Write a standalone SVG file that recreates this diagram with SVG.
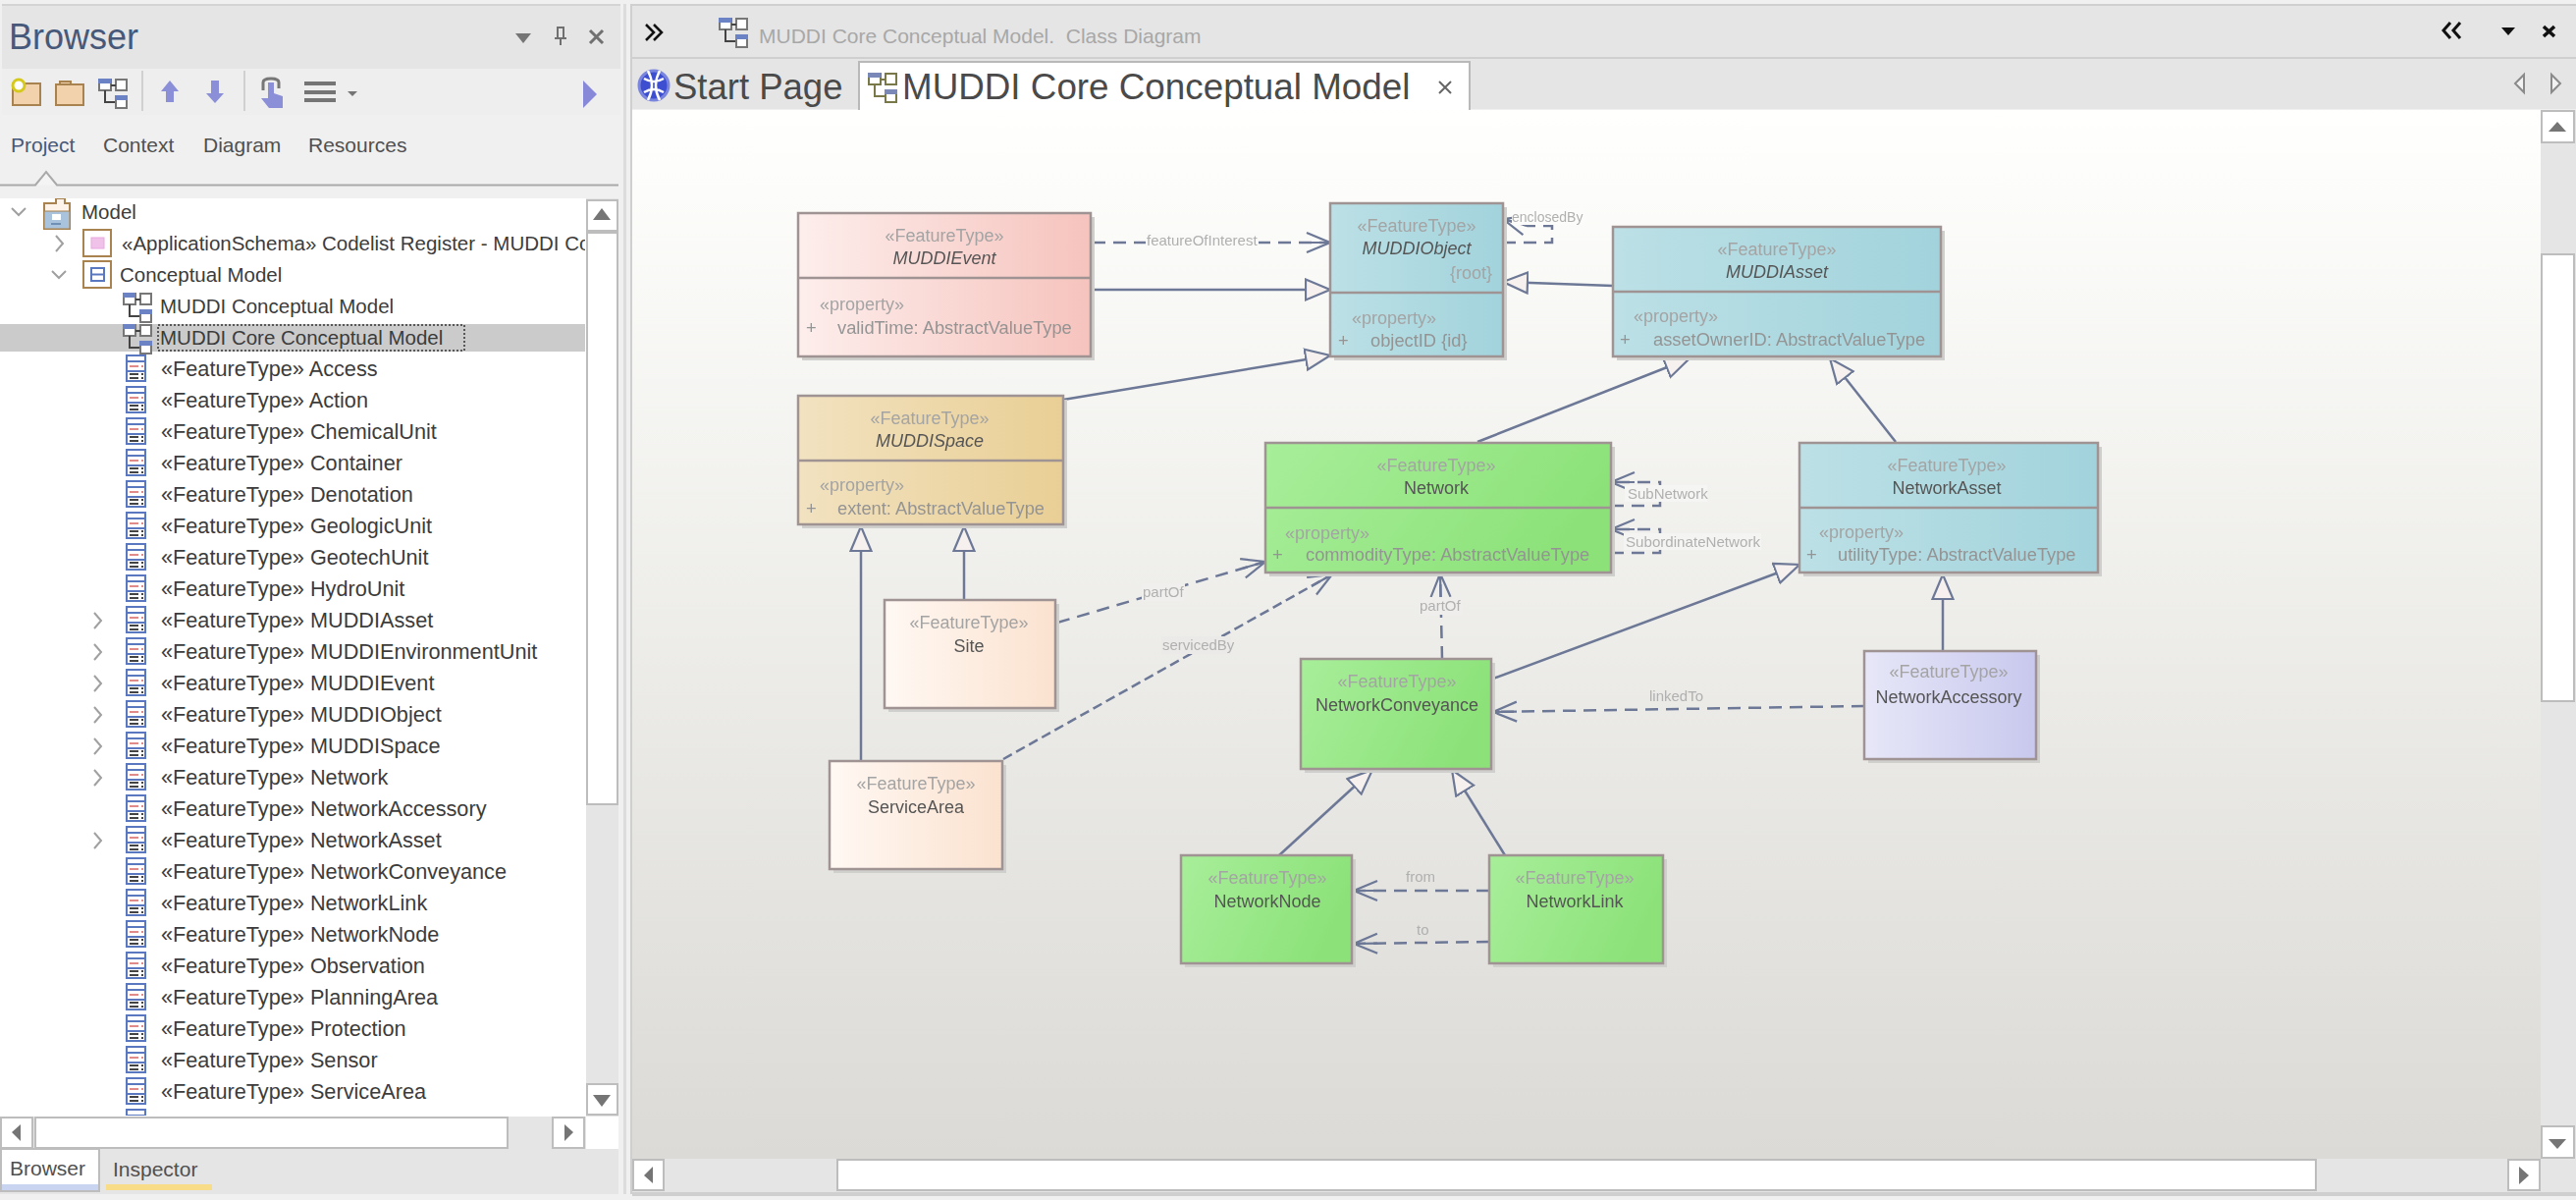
<svg xmlns="http://www.w3.org/2000/svg" width="2624" height="1222" viewBox="0 0 2624 1222">
<style>
text{font-family:"Liberation Sans",Arial,sans-serif}
.tree{font-size:20.5px;fill:#3c3c3c}
.ft{font-size:21.7px}
.st{font-size:18px;fill:#a4a4a4;text-anchor:middle}
.nm{font-size:18px;fill:#555;text-anchor:middle}
.it{font-style:italic}
.pr{font-size:18px;fill:#a4a4a4}
.at{font-size:18.3px;fill:#949494}
.lb{font-size:15px;fill:#b0b0b0}
.box{stroke:#a09393;stroke-width:2.500}
.shd{fill:#cfcfcd}
.div{stroke:#a09393;stroke-width:2.500}
.gen{fill:none;stroke:#6c7896;stroke-width:2.500;marker-end:url(#tri)}
.dep{fill:none;stroke:#6c7896;stroke-width:2.500;stroke-dasharray:13 8;marker-end:url(#open)}
.btn{fill:#fff;stroke:#bdbdbd;stroke-width:2}
.gl{fill:#757575}
.tab{font-size:21px;fill:#505050}
.exp{fill:none;stroke:#a0a0a0;stroke-width:2}
</style>
<defs>
<linearGradient id="cv" x1="0" y1="0" x2="0" y2="1"><stop offset="0" stop-color="#fffffd"/><stop offset="1" stop-color="#dbdad6"/></linearGradient>
<linearGradient id="gPink" x1="0" y1="0" x2="1" y2="0"><stop offset="0" stop-color="#fdeeec"/><stop offset="1" stop-color="#f6c3bd"/></linearGradient>
<linearGradient id="gTan" x1="0" y1="0" x2="1" y2="0"><stop offset="0" stop-color="#f2e2c0"/><stop offset="1" stop-color="#e9cf95"/></linearGradient>
<linearGradient id="gBlue" x1="0" y1="0" x2="1" y2="0"><stop offset="0" stop-color="#bce0e6"/><stop offset="1" stop-color="#a2d3dc"/></linearGradient>
<linearGradient id="gGreen" x1="0" y1="0" x2="1" y2="0.3"><stop offset="0" stop-color="#a8ee9a"/><stop offset="1" stop-color="#8ce279"/></linearGradient>
<linearGradient id="gPeach" x1="0" y1="0" x2="1" y2="0"><stop offset="0" stop-color="#fff8f3"/><stop offset="1" stop-color="#fbe2cf"/></linearGradient>
<linearGradient id="gLav" x1="0" y1="0" x2="1" y2="0"><stop offset="0" stop-color="#e7e7f8"/><stop offset="1" stop-color="#c8c8ee"/></linearGradient>
<marker id="tri" markerUnits="userSpaceOnUse" markerWidth="30" markerHeight="26" refX="26" refY="12" orient="auto"><path d="M1 1.500 L26 12 L1 22.500 Z" fill="#f6f1ee" stroke="#6c7896" stroke-width="2.200"/></marker>
<marker id="open" markerUnits="userSpaceOnUse" markerWidth="30" markerHeight="26" refX="25" refY="12" orient="auto"><path d="M1 2 L25 12 L1 22 M1 12 H25" fill="none" stroke="#6c7896" stroke-width="2.200"/></marker>
<filter id="soft" x="-2%" y="-2%" width="104%" height="104%"><feGaussianBlur stdDeviation="0.7"/></filter>
<g id="diag"><rect x="1" y="1" width="12" height="11" fill="#fff" stroke="#777" stroke-width="2"/><rect x="0" y="0" width="13" height="5" fill="#6b82c4"/><rect x="18" y="1" width="11" height="11" fill="#fff" stroke="#777" stroke-width="2"/><path d="M13 7H18M7 12V24H18" fill="none" stroke="#444" stroke-width="2"/><rect x="18" y="18" width="11" height="12" fill="#fff" stroke="#777" stroke-width="2"/><rect x="17" y="17" width="13" height="5" fill="#6b82c4"/></g>
<g id="cls"><rect x="1" y="1" width="19" height="26" fill="#fff" stroke="#5a78c0" stroke-width="2"/><path d="M1 7H20M1 17H20" stroke="#5a78c0" stroke-width="2"/><path d="M4 12H13M16 12H18" stroke="#e08a8a" stroke-width="2"/><path d="M4 20H13M16 20H18M4 24H13M16 24H18" stroke="#444" stroke-width="2"/></g>
<path id="chevR" d="M0 0L7 8L0 16" class="exp"/>
<path id="chevD" d="M0 0L7 7L14 0" class="exp"/>
<clipPath id="treeClip"><rect x="0" y="202" width="596" height="934"/></clipPath>
</defs>

<rect width="2624" height="1222" fill="#f0f0f0"/>

<g id="browser-panel">
<rect x="2" y="4" width="630" height="66" fill="#e5e5e5"/>
<rect x="2" y="4" width="630" height="2" fill="#d4d4d4"/>
<rect x="2" y="70" width="630" height="47" fill="#eeeeee"/>
<text x="9" y="50" font-size="36" fill="#46597a">Browser</text>
<path d="M525 34H541L533 44Z" class="gl"/>
<path d="M567 28H575M568 29V39H574V29M565 39H577M571 39V46" fill="none" stroke="#707070" stroke-width="2"/>
<path d="M601 31L614 44M614 31L601 44" stroke="#707070" stroke-width="3"/>
<g id="toolbar">
<rect x="13" y="85" width="28" height="22" fill="#f1d2ad" stroke="#a8824f" stroke-width="2"/>
<circle cx="19" cy="87" r="6" fill="#fff" stroke="#d6c91e" stroke-width="3"/>
<path d="M57 86H85V107H57ZM61 86V83H72V86" fill="#f1d2ad" stroke="#a8824f" stroke-width="2"/>
<use href="#diag" x="100" y="80"/>
<rect x="144" y="72" width="2" height="41" fill="#d0d0d0"/>
<path d="M173 93L182 82L182 82L191 93H186V104H178V93Z" transform="translate(-9 0)" fill="#8a8fd8"/>
<path d="M215 82H223V95H228L219 105L210 95H215Z" fill="#8a8fd8"/>
<rect x="248" y="72" width="2" height="41" fill="#d0d0d0"/>
<path d="M268 92V84Q268 80 276 80Q284 80 284 84V90" fill="none" stroke="#777" stroke-width="3"/>
<path d="M273 84H279V95L288 98V110H274L266 100L273 100Z" fill="#8a8fd8"/>
<path d="M310 85H342M310 94H342M310 102H342" stroke="#757575" stroke-width="4"/>
<path d="M354 93H364L359 98Z" fill="#757575"/>
<path d="M594 82L608 96L594 110Z" fill="#8888d8"/>
</g>
<text x="11" y="155" class="tab" style="fill:#46597a">Project</text>
<text x="105" y="155" class="tab">Context</text>
<text x="207" y="155" class="tab">Diagram</text>
<text x="314" y="155" class="tab">Resources</text>
<path d="M0 188.500H36L47 175L58 188.500H630" fill="#f4f4f4" stroke="#a9a9a9" stroke-width="2"/>

<rect x="0" y="202" width="597" height="935" fill="#fff"/>
<rect x="0" y="330" width="596" height="28" fill="#cbcbcb"/>
<rect x="161" y="331" width="312" height="26" fill="none" stroke="#333" stroke-width="1.500" stroke-dasharray="2 2"/>
<g id="tree" clip-path="url(#treeClip)">
<use href="#chevD" x="12" y="212"/>
<path d="M45 215V207H57V202H66V207H71V233H45Z" fill="#fdf3e8" stroke="#a8824f" stroke-width="2"/><rect x="45" y="215" width="26" height="18" fill="#a9c3dc" stroke="#a8824f" stroke-width="1"/><rect x="53" y="218" width="9" height="6" fill="#fff"/><rect x="52" y="227" width="10" height="2" fill="#6f8fb5"/>
<use href="#chevR" x="57" y="240"/>
<rect x="85" y="234" width="28" height="27" fill="#fff" stroke="#a8824f" stroke-width="2"/><rect x="93" y="242" width="13" height="11" fill="#f0c2ea" stroke="#e9a8e0"/>
<use href="#chevD" x="53" y="276"/>
<rect x="85" y="266" width="28" height="27" fill="#fff" stroke="#a8824f" stroke-width="2"/><rect x="93" y="273" width="13" height="13" fill="#fff" stroke="#5a78c0" stroke-width="2"/><path d="M93 279.500H106" stroke="#5a78c0" stroke-width="2"/>
<use href="#diag" x="125" y="298"/>
<use href="#diag" x="125" y="330"/>
<use href="#cls" x="128" y="361"/><use href="#cls" x="128" y="393"/><use href="#cls" x="128" y="425"/><use href="#cls" x="128" y="457"/><use href="#cls" x="128" y="489"/><use href="#cls" x="128" y="521"/><use href="#cls" x="128" y="553"/><use href="#cls" x="128" y="585"/><use href="#cls" x="128" y="617"/><use href="#cls" x="128" y="649"/><use href="#cls" x="128" y="681"/><use href="#cls" x="128" y="713"/><use href="#cls" x="128" y="745"/><use href="#cls" x="128" y="777"/><use href="#cls" x="128" y="809"/><use href="#cls" x="128" y="841"/><use href="#cls" x="128" y="873"/><use href="#cls" x="128" y="905"/><use href="#cls" x="128" y="937"/><use href="#cls" x="128" y="969"/><use href="#cls" x="128" y="1001"/><use href="#cls" x="128" y="1033"/><use href="#cls" x="128" y="1065"/><use href="#cls" x="128" y="1097"/><use href="#cls" x="128" y="1129"/>
<use href="#chevR" x="96" y="624"/><use href="#chevR" x="96" y="656"/><use href="#chevR" x="96" y="688"/><use href="#chevR" x="96" y="720"/><use href="#chevR" x="96" y="752"/><use href="#chevR" x="96" y="784"/><use href="#chevR" x="96" y="848"/>
<text class="tree" x="83" y="223">Model</text>
<text class="tree" x="124" y="255">«ApplicationSchema» Codelist Register - MUDDI Core</text>
<text class="tree" x="122" y="287">Conceptual Model</text>
<text class="tree" x="163" y="319">MUDDI Conceptual Model</text>
<text class="tree" x="163" y="351">MUDDI Core Conceptual Model</text>
<text class="tree ft" x="164" y="383">«FeatureType» Access</text>
<text class="tree ft" x="164" y="415">«FeatureType» Action</text>
<text class="tree ft" x="164" y="447">«FeatureType» ChemicalUnit</text>
<text class="tree ft" x="164" y="479">«FeatureType» Container</text>
<text class="tree ft" x="164" y="511">«FeatureType» Denotation</text>
<text class="tree ft" x="164" y="543">«FeatureType» GeologicUnit</text>
<text class="tree ft" x="164" y="575">«FeatureType» GeotechUnit</text>
<text class="tree ft" x="164" y="607">«FeatureType» HydroUnit</text>
<text class="tree ft" x="164" y="639">«FeatureType» MUDDIAsset</text>
<text class="tree ft" x="164" y="671">«FeatureType» MUDDIEnvironmentUnit</text>
<text class="tree ft" x="164" y="703">«FeatureType» MUDDIEvent</text>
<text class="tree ft" x="164" y="735">«FeatureType» MUDDIObject</text>
<text class="tree ft" x="164" y="767">«FeatureType» MUDDISpace</text>
<text class="tree ft" x="164" y="799">«FeatureType» Network</text>
<text class="tree ft" x="164" y="831">«FeatureType» NetworkAccessory</text>
<text class="tree ft" x="164" y="863">«FeatureType» NetworkAsset</text>
<text class="tree ft" x="164" y="895">«FeatureType» NetworkConveyance</text>
<text class="tree ft" x="164" y="927">«FeatureType» NetworkLink</text>
<text class="tree ft" x="164" y="959">«FeatureType» NetworkNode</text>
<text class="tree ft" x="164" y="991">«FeatureType» Observation</text>
<text class="tree ft" x="164" y="1023">«FeatureType» PlanningArea</text>
<text class="tree ft" x="164" y="1055">«FeatureType» Protection</text>
<text class="tree ft" x="164" y="1087">«FeatureType» Sensor</text>
<text class="tree ft" x="164" y="1119">«FeatureType» ServiceArea</text>
</g>
<rect x="597" y="202" width="33" height="935" fill="#e5e5e5"/>
<rect class="btn" x="598" y="204" width="31" height="31"/><path d="M604 224L613 212L622 224Z" class="gl"/>
<rect class="btn" x="598" y="237" width="31" height="582"/>
<rect class="btn" x="598" y="1104" width="31" height="31"/><path d="M604 1115H622L613 1127Z" class="gl"/>
<rect x="0" y="1137" width="630" height="33" fill="#e5e5e5"/>
<rect class="btn" x="1" y="1138" width="32" height="31"/><path d="M21 1145V1162L12 1153Z" class="gl"/>
<rect class="btn" x="36" y="1138" width="481" height="31"/>
<rect class="btn" x="563" y="1138" width="32" height="31"/><path d="M575 1145V1162L584 1153Z" class="gl"/>
<rect x="597" y="1137" width="33" height="33" fill="#fff"/>
<rect x="0" y="1170" width="630" height="46" fill="#e5e5e5"/>
<rect x="1" y="1170" width="100" height="43" fill="#fff" stroke="#bdbdbd" stroke-width="2"/>
<rect x="2" y="1206" width="98" height="6" fill="#c9d4f0"/>
<text x="10" y="1197" class="tab">Browser</text>
<text x="115" y="1198" class="tab">Inspector</text>
<rect x="108" y="1206" width="108" height="6" fill="#f9dc87"/>
</g>

<g id="diagram-panel">
<rect x="634" y="0" width="10" height="1222" fill="#f0f0f0"/>
<rect x="635" y="4" width="3" height="1212" fill="#dcdcdc"/>
<rect x="642" y="4" width="1982" height="54" fill="#e5e5e5"/>
<rect x="642" y="4" width="1982" height="2" fill="#cfcfcf"/>
<rect x="642" y="58" width="1982" height="2" fill="#cfcfcf"/>
<rect x="642" y="60" width="1982" height="51" fill="#e5e5e5"/>
<rect x="642" y="4" width="2" height="1212" fill="#cfcfcf"/>
<path d="M658 25L666 33L658 41M666 25L674 33L666 41" fill="none" stroke="#111" stroke-width="2.500"/>
<use href="#diag" x="732" y="18"/>
<text x="773" y="44" font-size="21" fill="#a8a8a8" style="white-space:pre">MUDDI Core Conceptual Model.  Class Diagram</text>
<path d="M2496 23L2489 31L2496 39M2506 23L2499 31L2506 39" fill="none" stroke="#111" stroke-width="3"/>
<path d="M2548 28H2562L2555 36Z" fill="#111"/>
<path d="M2591 27L2602 37M2602 27L2591 37" stroke="#111" stroke-width="3.500"/>
<path d="M2571 76V94L2562 85Z M2599 76V94L2608 85Z" fill="#f2f2f2" stroke="#8a8a8a" stroke-width="2"/>
<circle cx="666" cy="87" r="15" fill="#3d4fd0" stroke="#7a86de" stroke-width="3"/><path d="M656 80Q666 86 676 80M656 94Q666 88 676 94M660 72Q668 87 660 102M672 72Q664 87 672 102" fill="none" stroke="#fff" stroke-width="2.500"/>
<text x="686" y="101" font-size="36.500" fill="#4a4a4a">Start Page</text>
<rect x="875" y="63" width="622" height="52" fill="#fff" stroke="#b9b9b9" stroke-width="2"/>
<g transform="translate(884 74)"><rect x="1" y="1" width="12" height="11" fill="#fff" stroke="#787848" stroke-width="2"/><rect x="0" y="0" width="13" height="5" fill="#7a88b8"/><rect x="18" y="1" width="11" height="11" fill="#fff" stroke="#787848" stroke-width="2"/><path d="M13 7H18M7 12V24H18" fill="none" stroke="#787848" stroke-width="2"/><rect x="18" y="18" width="11" height="12" fill="#fff" stroke="#787848" stroke-width="2"/><rect x="17" y="17" width="13" height="5" fill="#7a88b8"/></g>
<text x="919" y="101" font-size="36.800" fill="#4a4a4a">MUDDI Core Conceptual Model</text>
<path d="M1466 83L1478 95M1478 83L1466 95" stroke="#666" stroke-width="2"/>

<rect x="644" y="112" width="1944" height="1068" fill="url(#cv)"/>
<rect x="2588" y="112" width="36" height="1068" fill="#e5e5e5"/>
<rect class="btn" x="2589" y="113" width="33" height="32"/><path d="M2596 134L2605 124L2614 134Z" class="gl"/>
<rect class="btn" x="2589" y="259" width="33" height="455"/>
<rect class="btn" x="2589" y="1147" width="33" height="32"/><path d="M2596 1160H2614L2605 1170Z" class="gl"/>
<rect x="644" y="1180" width="1980" height="34" fill="#e5e5e5"/>
<rect class="btn" x="645" y="1181" width="31" height="31"/><path d="M665 1188V1205L656 1197Z" class="gl"/>
<rect class="btn" x="853" y="1181" width="1506" height="31"/>
<rect class="btn" x="2555" y="1181" width="32" height="31"/><path d="M2566 1188V1206L2576 1197Z" class="gl"/>
<rect x="644" y="1214" width="1980" height="4" fill="#cfcfcf"/>
</g>

<g id="connectors" filter="url(#soft)">
<path class="dep" d="M1113 247H1355"/>
<rect x="1167" y="237" width="115" height="18" fill="#fafaf8"/>
<text class="lb" x="1168" y="250">featureOfInterest</text>
<path class="gen" d="M1111 295H1355"/>
<path class="gen" d="M1083 407L1355 362"/>
<path class="dep" d="M1531 247H1581V230H1556L1531 223"/>
<rect x="1540" y="212" width="74" height="17" fill="#fcfcfa"/>
<text class="lb" x="1540" y="226" style="font-size:14px">enclosedBy</text>
<path class="gen" d="M1643 291L1531 287"/>
<path class="gen" d="M1505 450L1721 365"/>
<path class="gen" d="M1931 450L1864 365"/>
<path class="dep" d="M1641 515H1691V491H1641"/>
<rect x="1655" y="494" width="84" height="17" fill="#f5f5f3"/>
<text class="lb" x="1658" y="508">SubNetwork</text>
<path class="dep" d="M1641 563H1691V539H1641"/>
<rect x="1654" y="543" width="140" height="17" fill="#f4f4f2"/>
<text class="lb" x="1656" y="557" textLength="137" lengthAdjust="spacingAndGlyphs">SubordinateNetwork</text>
<path class="gen" d="M1521 691L1833 575"/>
<path class="gen" d="M1979 663V585"/>
<path class="dep" d="M1899 719L1521 725"/>
<text class="lb" x="1680" y="714">linkedTo</text>
<path class="gen" d="M982 611V536"/>
<path class="gen" d="M877 775V536"/>
<path class="dep" d="M1077 634L1289 572"/>
<rect x="1163" y="594" width="44" height="18" fill="#f0efed"/>
<text class="lb" x="1164" y="608">partOf</text>
<path class="dep" d="M1022 773L1357 585" style="stroke-dasharray:10 5"/>
<rect x="1183" y="648" width="71" height="18" fill="#ebeae8"/>
<text class="lb" x="1184" y="662">servicedBy</text>
<path class="dep" d="M1469 671L1467 584"/>
<rect x="1445" y="608" width="45" height="18" fill="#efeeec"/>
<text class="lb" x="1446" y="622">partOf</text>
<path class="gen" d="M1303 871L1398 784"/>
<path class="gen" d="M1533 871L1479 784"/>
<path class="dep" d="M1517 907H1379"/>
<text class="lb" x="1432" y="898">from</text>
<path class="dep" d="M1517 959L1379 961"/>
<text class="lb" x="1443" y="952">to</text>
</g>

<g id="nodes" filter="url(#soft)">
<g id="node-MUDDIEvent">
<rect class="shd" x="817" y="221" width="298" height="146"/><rect class="box" x="813" y="217" width="298" height="146" fill="url(#gPink)"/><path class="div" d="M813 283H1111"/>
<text class="st" x="962" y="246">«FeatureType»</text><text class="nm it" x="962" y="269">MUDDIEvent</text>
<text class="pr" x="835" y="316">«property»</text><text class="at" x="821" y="340">+</text><text class="at" x="853" y="340">validTime: AbstractValueType</text>
</g>
<g id="node-MUDDIObject">
<rect class="shd" x="1359" y="211" width="176" height="156"/><rect class="box" x="1355" y="207" width="176" height="156" fill="url(#gBlue)"/><path class="div" d="M1355 298H1531"/>
<text class="st" x="1443" y="236">«FeatureType»</text><text class="nm it" x="1443" y="259">MUDDIObject</text>
<text class="pr" x="1520" y="284" text-anchor="end">{root}</text>
<text class="pr" x="1377" y="330">«property»</text><text class="at" x="1363" y="353">+</text><text class="at" x="1396" y="353">objectID {id}</text>
</g>
<g id="node-MUDDIAsset">
<rect class="shd" x="1647" y="235" width="334" height="132"/><rect class="box" x="1643" y="231" width="334" height="132" fill="url(#gBlue)"/><path class="div" d="M1643 297H1977"/>
<text class="st" x="1810" y="260">«FeatureType»</text><text class="nm it" x="1810" y="283">MUDDIAsset</text>
<text class="pr" x="1664" y="328">«property»</text><text class="at" x="1650" y="352">+</text><text class="at" x="1684" y="352">assetOwnerID: AbstractValueType</text>
</g>
<g id="node-MUDDISpace">
<rect class="shd" x="817" y="407" width="270" height="131"/><rect class="box" x="813" y="403" width="270" height="131" fill="url(#gTan)"/><path class="div" d="M813 469H1083"/>
<text class="st" x="947" y="432">«FeatureType»</text><text class="nm it" x="947" y="455">MUDDISpace</text>
<text class="pr" x="835" y="500">«property»</text><text class="at" x="821" y="524">+</text><text class="at" x="853" y="524">extent: AbstractValueType</text>
</g>
<g id="node-Network">
<rect class="shd" x="1293" y="455" width="352" height="132"/><rect class="box" x="1289" y="451" width="352" height="132" fill="url(#gGreen)"/><path class="div" d="M1289 517H1641"/>
<text class="st" x="1463" y="480">«FeatureType»</text><text class="nm" x="1463" y="503">Network</text>
<text class="pr" x="1309" y="549">«property»</text><text class="at" x="1296" y="571">+</text><text class="at" x="1330" y="571">commodityType: AbstractValueType</text>
</g>
<g id="node-NetworkAsset">
<rect class="shd" x="1837" y="455" width="304" height="132"/><rect class="box" x="1833" y="451" width="304" height="132" fill="url(#gBlue)"/><path class="div" d="M1833 517H2137"/>
<text class="st" x="1983" y="480">«FeatureType»</text><text class="nm" x="1983" y="503">NetworkAsset</text>
<text class="pr" x="1853" y="548">«property»</text><text class="at" x="1840" y="571">+</text><text class="at" x="1872" y="571">utilityType: AbstractValueType</text>
</g>
<g id="node-Site">
<rect class="shd" x="905" y="615" width="174" height="110"/><rect class="box" x="901" y="611" width="174" height="110" fill="url(#gPeach)"/>
<text class="st" x="987" y="640">«FeatureType»</text><text class="nm" x="987" y="664">Site</text>
</g>
<g id="node-ServiceArea">
<rect class="shd" x="849" y="779" width="176" height="110"/><rect class="box" x="845" y="775" width="176" height="110" fill="url(#gPeach)"/>
<text class="st" x="933" y="804">«FeatureType»</text><text class="nm" x="933" y="828">ServiceArea</text>
</g>
<g id="node-NetworkConveyance">
<rect class="shd" x="1329" y="675" width="194" height="112"/><rect class="box" x="1325" y="671" width="194" height="112" fill="url(#gGreen)"/>
<text class="st" x="1423" y="700">«FeatureType»</text><text class="nm" x="1423" y="724">NetworkConveyance</text>
</g>
<g id="node-NetworkAccessory">
<rect class="shd" x="1903" y="667" width="175" height="110"/><rect class="box" x="1899" y="663" width="175" height="110" fill="url(#gLav)"/>
<text class="st" x="1985" y="690">«FeatureType»</text><text class="nm" x="1985" y="716">NetworkAccessory</text>
</g>
<g id="node-NetworkNode">
<rect class="shd" x="1207" y="875" width="174" height="110"/><rect class="box" x="1203" y="871" width="174" height="110" fill="url(#gGreen)"/>
<text class="st" x="1291" y="900">«FeatureType»</text><text class="nm" x="1291" y="924">NetworkNode</text>
</g>
<g id="node-NetworkLink">
<rect class="shd" x="1521" y="875" width="177" height="110"/><rect class="box" x="1517" y="871" width="177" height="110" fill="url(#gGreen)"/>
<text class="st" x="1604" y="900">«FeatureType»</text><text class="nm" x="1604" y="924">NetworkLink</text>
</g>
</g>
</svg>
